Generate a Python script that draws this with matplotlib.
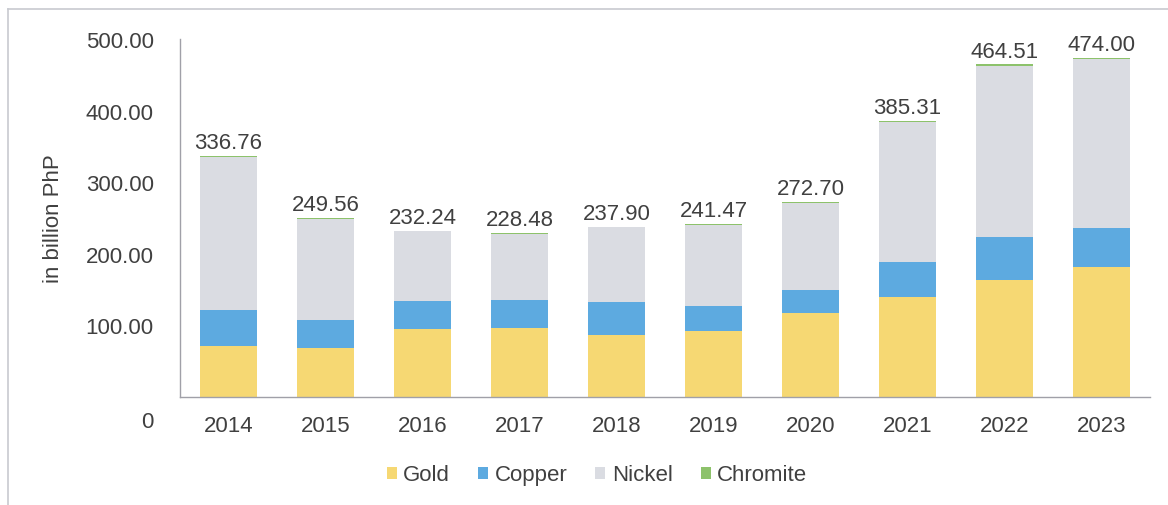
import matplotlib
matplotlib.use("Agg")
from matplotlib import pyplot as plt
from matplotlib.lines import Line2D
import matplotlib.transforms as mtransforms
import numpy as np

plt.rcParams['font.family'] = ['Liberation Sans', 'DejaVu Sans']

# values (in billion PhP)
years = ['2014', '2015', '2016', '2017', '2018', '2019', '2020', '2021', '2022', '2023']
totals = [336.76, 249.56, 232.24, 228.48, 237.90, 241.47, 272.70, 385.31, 464.51, 474.00]
gold = [71.2, 68.0, 94.6, 96.0, 86.6, 91.3, 116.5, 139.7, 163.4, 181.6]
copper = [49.9, 39.0, 39.5, 39.0, 45.2, 35.0, 33.0, 48.0, 60.0, 53.6]
chromite = [1.5, 1.2, 1.2, 1.2, 1.3, 1.3, 1.4, 1.6, 1.8, 1.8]
# nickel is what is left of each total
nickel = [t - g - c - cr for t, g, c, cr in zip(totals, gold, copper, chromite)]

colors = {'Gold': '#F6D873', 'Copper': '#5DAAE0', 'Nickel': '#DADCE2', 'Chromite': '#8DC26B'}
text_col = '#404040'

fig = plt.figure(figsize=(11.68, 5.06), dpi=100)
ax = fig.add_axes([180/1168, 1 - 397.7/506, 970/1168, (397.7 - 40)/506])

x = np.arange(len(years))
w = 0.59
bottom = np.zeros(len(years))
for name, vals in [('Gold', gold), ('Copper', copper), ('Nickel', nickel), ('Chromite', chromite)]:
    ax.bar(x, vals, w, bottom=bottom, color=colors[name], label=name, zorder=2)
    bottom += np.array(vals)

for xi, t in zip(x, totals):
    ax.annotate(f'{t:.2f}', (xi, t), xytext=(0, 2), textcoords='offset points',
                ha='center', va='bottom', fontsize=16, color=text_col)

ax.set_xlim(-0.5, len(years) - 0.5)
ax.set_ylim(0, 500)
ax.set_xticks(x)
ax.set_xticklabels(years)
ax.set_yticks([0, 100, 200, 300, 400, 500])
ax.set_yticklabels(['0', '100.00', '200.00', '300.00', '400.00', '500.00'])
ax.tick_params(axis='both', length=0, labelsize=16, colors=text_col)
ax.tick_params(axis='y', pad=19)
ax.tick_params(axis='x', pad=13)

# the "0" label sits lower than the axis line in the original
lbl0 = ax.get_yticklabels()[0]
lbl0.set_transform(lbl0.get_transform() + mtransforms.ScaledTranslation(0, -22/100, fig.dpi_scale_trans))

for s in ['top', 'right']:
    ax.spines[s].set_visible(False)
for s in ['left', 'bottom']:
    ax.spines[s].set_color('#A0A0A8')
    ax.spines[s].set_linewidth(1.0)

ax.set_ylabel('in billion PhP', fontsize=16, color=text_col)
ax.yaxis.set_label_coords(-116/970, 0.5)

fig.legend(*ax.get_legend_handles_labels(), loc='center', bbox_to_anchor=(597/1168, 1 - 476/506),
           ncol=4, frameon=False, fontsize=16, handlelength=0.45, handleheight=0.45,
           handletextpad=0.3, columnspacing=1.25, labelcolor=text_col)

# frame: only top and left edges show in the original
fig.add_artist(Line2D([8/1168, 1], [1 - 10/506, 1 - 10/506], transform=fig.transFigure,
                      color='#C8CAD0', linewidth=1.2))
fig.add_artist(Line2D([8/1168, 8/1168], [0, 1 - 10/506], transform=fig.transFigure,
                      color='#C8CAD0', linewidth=1.2))

fig.savefig('out.png', dpi=100)
